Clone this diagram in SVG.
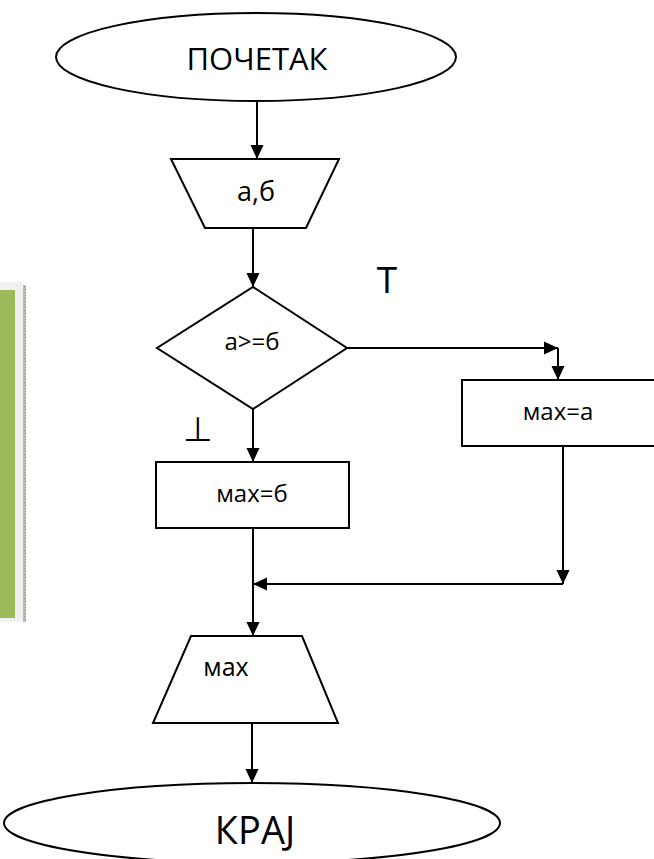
<svg xmlns="http://www.w3.org/2000/svg" width="654" height="859" viewBox="0 0 654 859">
  <defs>
    <marker id="arrow" markerUnits="userSpaceOnUse" markerWidth="14" markerHeight="16" refX="15" refY="7" orient="auto" viewBox="0 0 15 14">
      <path d="M0,0 L15,7 L0,14 Z" fill="#000"/>
    </marker>
    <pattern id="dots" width="3" height="6" patternUnits="userSpaceOnUse">
      <rect width="3" height="6" fill="#b9bfa8"/>
      <rect x="1" y="1" width="1" height="1" fill="#7f8a70"/>
      <rect x="0" y="4" width="1" height="1" fill="#8d9a7a"/>
    </pattern>
  </defs>
  <style>
    .shape { fill: #fff; stroke: #000; stroke-width: 2; }
    .edge { fill: none; stroke: #000; stroke-width: 2; }
    .lbl { font-family: "Open Sans", "Noto Sans", sans-serif; fill: #000; text-anchor: middle; }
  </style>

  <rect width="654" height="859" fill="#fff"/>

  <!-- side panel at the left edge -->
  <g id="side-panel">
    <rect x="0" y="282" width="23" height="340" fill="#f0f0f0"/>
    <rect x="0" y="290" width="15" height="328" fill="#9bbb59"/>
    <rect x="23" y="285" width="3" height="337" fill="url(#dots)"/>
  </g>

  <g id="connectors">
    <line class="edge" x1="257" y1="101" x2="257" y2="159" marker-end="url(#arrow)"/>
    <line class="edge" x1="253" y1="228" x2="253" y2="287" marker-end="url(#arrow)"/>
    <line class="edge" x1="347" y1="348" x2="558" y2="348" marker-end="url(#arrow)"/>
    <line class="edge" x1="558" y1="348" x2="558" y2="380" marker-end="url(#arrow)"/>
    <line class="edge" x1="253" y1="409" x2="253" y2="462" marker-end="url(#arrow)"/>
    <line class="edge" x1="563" y1="446" x2="563" y2="584" marker-end="url(#arrow)"/>
    <line class="edge" x1="563" y1="584" x2="253" y2="584" marker-end="url(#arrow)"/>
    <line class="edge" x1="253" y1="528" x2="253" y2="636" marker-end="url(#arrow)"/>
    <line class="edge" x1="252" y1="723" x2="252" y2="783" marker-end="url(#arrow)"/>
  </g>

  <g id="start">
    <ellipse class="shape" cx="256" cy="57" rx="200" ry="44"/>
    <text class="lbl" x="257" y="70" font-size="31">ПОЧЕТАК</text>
  </g>

  <g id="input">
    <polygon class="shape" points="171,159 339,159 306,228 205,228"/>
    <text class="lbl" x="256" y="201" font-size="27">а,б</text>
  </g>

  <g id="decision">
    <polygon class="shape" points="253,287 347,348 253,409 157,348"/>
    <text class="lbl" x="252" y="350" font-size="24">а&gt;=б</text>
  </g>

  <g id="label-true">
    <text class="lbl" x="387" y="293" font-size="37">Т</text>
  </g>
  <g id="label-false">
    <text class="lbl" x="198" y="441" font-size="34" font-family="DejaVu Sans, sans-serif">⊥</text>
  </g>

  <g id="assign-a">
    <rect class="shape" x="462" y="380" width="200" height="66"/>
    <text class="lbl" x="558" y="420" font-size="24">мах=а</text>
  </g>

  <g id="assign-b">
    <rect class="shape" x="156" y="462" width="193" height="66"/>
    <text class="lbl" x="252" y="502" font-size="24">мах=б</text>
  </g>

  <g id="output">
    <polygon class="shape" points="191,636 302,636 338,723 153,723"/>
    <text class="lbl" x="226" y="676" font-size="25">мах</text>
  </g>

  <g id="end">
    <ellipse class="shape" cx="252" cy="823" rx="248" ry="40"/>
    <text class="lbl" x="255" y="844" font-size="38">КРАЈ</text>
  </g>
</svg>
